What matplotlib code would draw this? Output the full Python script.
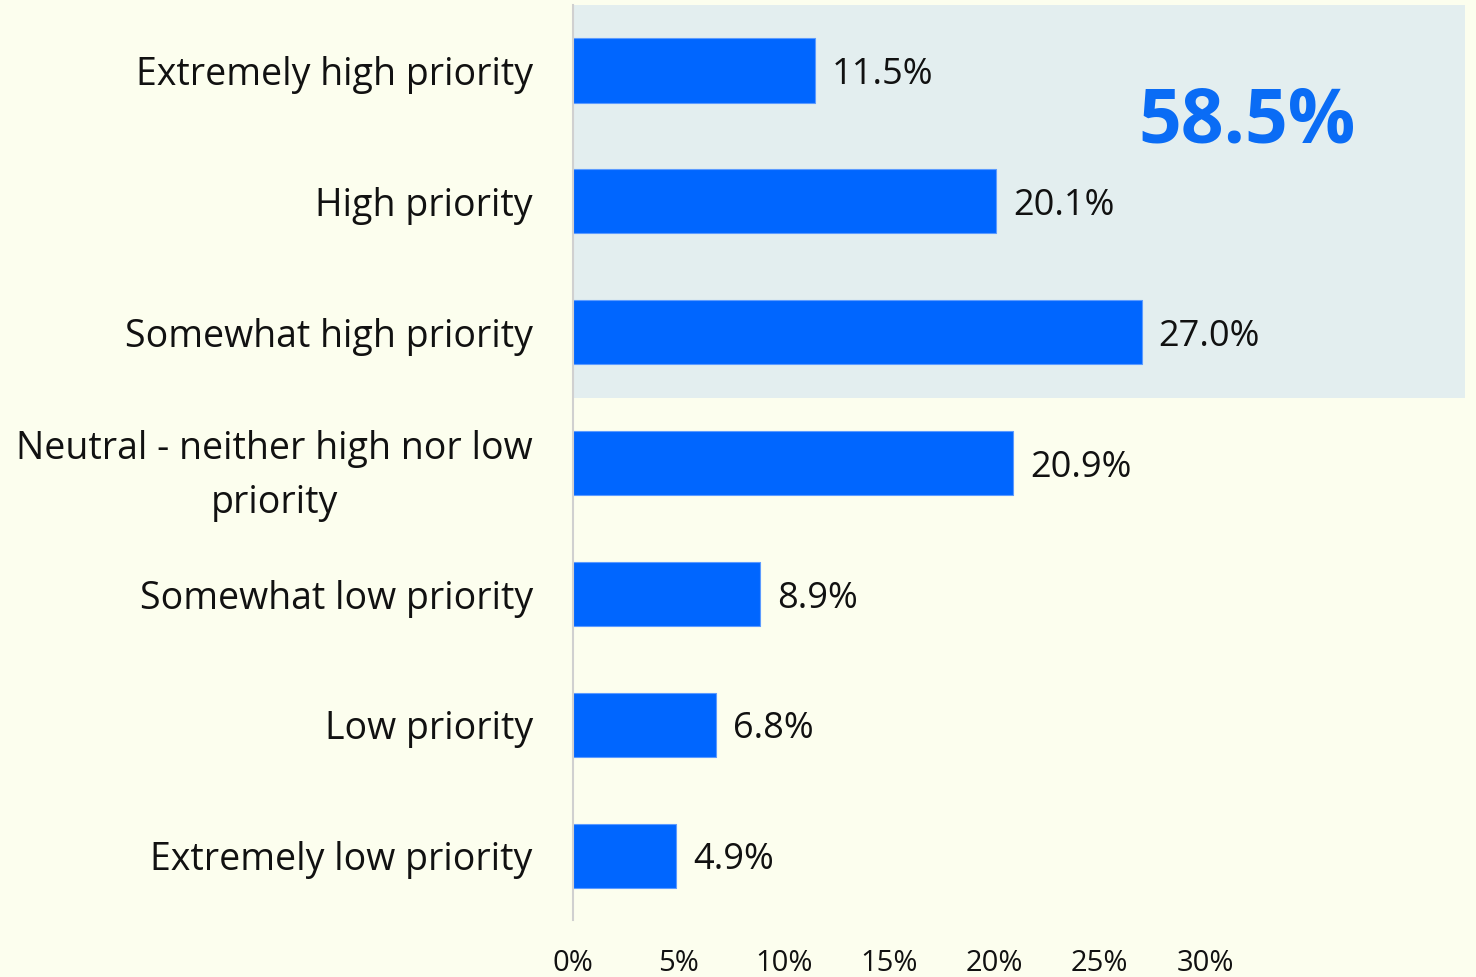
import matplotlib.pyplot as plt
from matplotlib.patches import Rectangle

categories = ['Extremely high priority', 'High priority', 'Somewhat high priority',
              'Neutral - neither high nor low\npriority', 'Somewhat low priority',
              'Low priority', 'Extremely low priority']
values = [11.5, 20.1, 27.0, 20.9, 8.9, 6.8, 4.9]
ticks = [0, 5, 10, 15, 20, 25, 30]
highlight_total = '58.5%'

bg = '#FCFEEE'
shade = '#E3EEEF'
bar_color = '#0066FF'

plt.rcParams['font.family'] = ['Open Sans', 'DejaVu Sans']

fig = plt.figure(figsize=(14.76, 9.77), dpi=100)
fig.patch.set_facecolor(bg)
# axes placed in pixel terms: left 573, right 1465, top 5, bottom 920
ax = fig.add_axes([573 / 1476, 1 - 920 / 977, (1465 - 573) / 1476, (920 - 5) / 977])
ax.set_facecolor(bg)

ypos = list(range(len(categories)))
ax.set_xlim(0, (1465 - 573) / ((1205 - 573) / 30))
ax.set_ylim(6.49, -0.5)

# shaded box behind the three "high" rows
ax.add_patch(Rectangle((0, -0.5), ax.get_xlim()[1], 3.0, facecolor=shade,
                       edgecolor='none', zorder=0))

ax.barh(ypos, values, height=0.49, color=bar_color, edgecolor='#5C9BFF',
        linewidth=0.8, zorder=2)

for y, v in zip(ypos, values):
    ax.text(v + 0.8, y, f'{v:.1f}%', va='center_baseline', ha='left', fontsize=26,
            color='#111111', zorder=3)

ax.text(32.0, 0.4, highlight_total, ha='center', va='center', fontsize=54,
        fontweight='bold', color='#0A6CF5', zorder=3)

ax.set_yticks(ypos)
ax.set_yticklabels(categories, fontsize=27, color='#111111', multialignment='center',
                   linespacing=1.55)
ax.set_xticks(ticks)
ax.set_xticklabels([f'{t}%' for t in ticks], fontsize=21, color='#111111')
ax.tick_params(axis='y', length=0, pad=29)
ax.tick_params(axis='x', length=0, pad=21)

for side in ['top', 'right', 'bottom']:
    ax.spines[side].set_visible(False)
ax.spines['left'].set_color('#D0D0D0')
ax.spines['left'].set_linewidth(1.5)
ax.spines['left'].set_zorder(4)

fig.savefig('out.png', dpi=100, facecolor=bg)
